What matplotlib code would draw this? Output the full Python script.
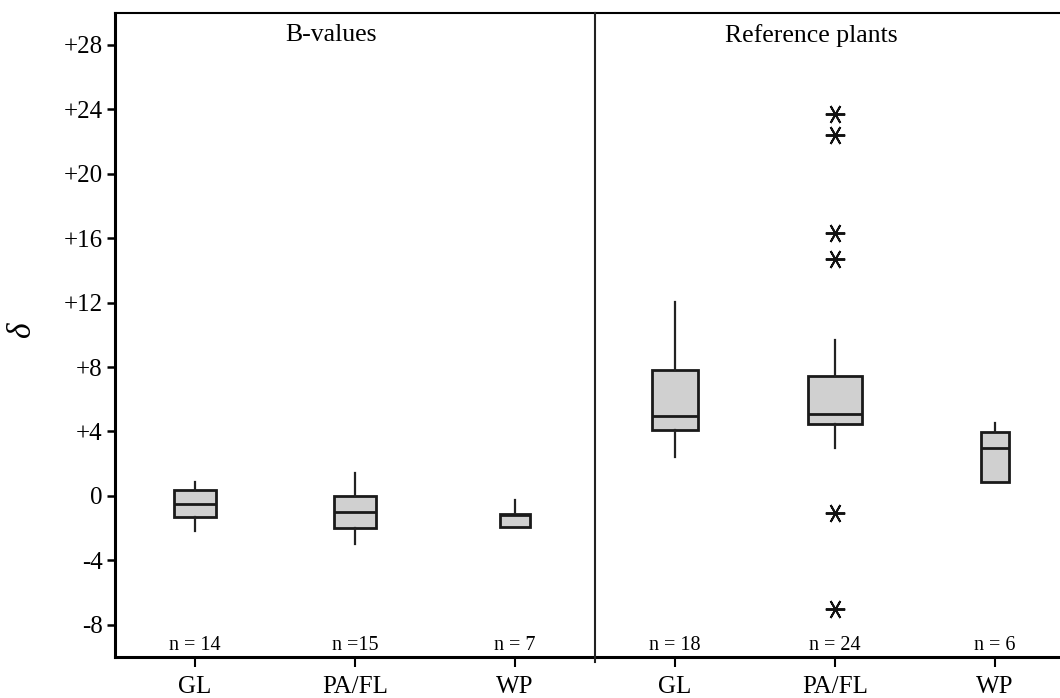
import numpy as np
import matplotlib
matplotlib.use("Agg")
import matplotlib.pyplot as plt
from matplotlib.lines import Line2D

plt.rcParams['font.family'] = ['Liberation Serif', 'DejaVu Serif']

groups = ["GL", "PA/FL", "WP"]
panels = ["B-values", "Reference plants"]

# B-values
bval_n = [14, 15, 7]
bval_whislo = [-2.15, -3.0, -1.9]
bval_q1 = [-1.28, -2.0, -1.9]
bval_med = [-0.5, -1.0, -1.2]
bval_q3 = [0.37, 0.0, -1.1]
bval_whishi = [0.88, 1.4, -0.25]
bval_fliers = [[], [], []]

# reference plants
ref_n = [18, 24, 6]
ref_whislo = [2.43, 2.95, 0.87]
ref_q1 = [4.08, 4.45, 0.87]
ref_med = [4.95, 5.09, 2.95]
ref_q3 = [7.79, 7.44, 3.96]
ref_whishi = [12.06, 9.69, 4.5]
ref_fliers = [[], [23.7, 22.4, 16.35, 14.7, -1.07, -7.0], []]

yticks = [-8, -4, 0, 4, 8, 12, 16, 20, 24, 28]
ytick_labels = ["-8", "-4", "0", "+4", "+8", "+12", "+16", "+20", "+24", "+28"]

W, H = 1060, 698
fig = plt.figure(figsize=(W / 100, H / 100), dpi=100)
ax_l = fig.add_axes([115 / W, 41 / H, 480 / W, 644.3 / H])
ax_r = fig.add_axes([595 / W, 41 / H, 480 / W, 644.3 / H])

data = [
    (bval_n, bval_whislo, bval_q1, bval_med, bval_q3, bval_whishi, bval_fliers),
    (ref_n, ref_whislo, ref_q1, ref_med, ref_q3, ref_whishi, ref_fliers),
]
title_x = [0.85, 0.85]

for ax, d, title, tx in zip([ax_l, ax_r], data, panels, title_x):
    n, lo, q1, med, q3, hi, fl = d
    stats = []
    for i in range(3):
        stats.append(dict(whislo=lo[i], q1=q1[i], med=med[i], q3=q3[i],
                          whishi=hi[i], fliers=fl[i]))
    widths = [0.0689 * np.sqrt(k) for k in n]
    ax.bxp(stats, positions=range(3), widths=widths, patch_artist=True,
           showcaps=False,
           boxprops=dict(facecolor="#d0d0d0", edgecolor="#1a1a1a", linewidth=2.0),
           medianprops=dict(color="#1a1a1a", linewidth=2.0),
           whiskerprops=dict(color="#222222", linewidth=1.6),
           flierprops=dict(marker=(6, 2, 90), markersize=14, markeredgecolor="#111111",
                           markeredgewidth=1.4, linestyle="none"))
    ax.set_xlim(-0.5, 2.5)
    ax.set_ylim(-10, 30)
    ax.set_xticks(range(3))
    ax.set_xticklabels(groups, fontsize=18)
    ax.tick_params(axis="x", length=7, width=1.5, direction="out", pad=7)
    for i in range(3):
        ax.text(i, -9.85, f"n = {n[i]}" if n[i] != 15 else f"n ={n[i]}",
                ha="center", va="bottom", fontsize=14.5)
    ax.text(tx, 28.6, title, ha="center", va="center", fontsize=18.5)
    ax.spines["right"].set_visible(False)
    ax.spines["top"].set_linewidth(1.5)
    ax.spines["bottom"].set_linewidth(2.2)

ax_l.set_yticks(yticks)
ax_l.set_yticklabels(ytick_labels, fontsize=18)
ax_l.tick_params(axis="y", length=6, width=1.8, direction="out", pad=3)
ax_l.spines["left"].set_linewidth(2.2)
fig.text(22 / W, (H - 330) / H, "δ", rotation=90, style="italic", fontsize=24,
         ha="center", va="center")

ax_r.spines["left"].set_visible(False)
ax_r.set_yticks([])

# divider between the panels, reaching a little below the axis
fig.add_artist(Line2D([595 / W, 595 / W], [(H - 662) / H, (H - 12.7) / H],
                      color="#222222", linewidth=1.5))

fig.savefig("out.png", dpi=100)
